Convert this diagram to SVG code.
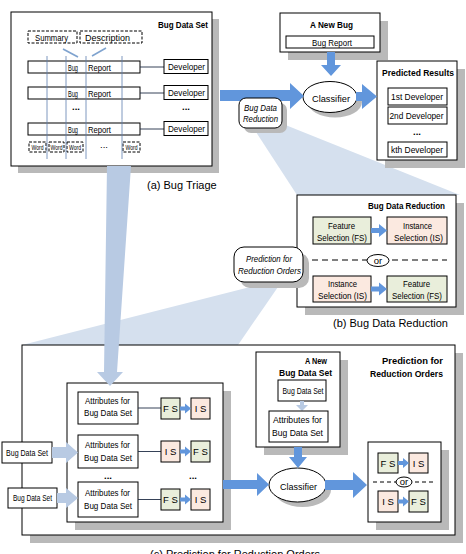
<svg xmlns="http://www.w3.org/2000/svg" width="466" height="554" viewBox="0 0 466 554">
<defs>
<style>
text{font-family:"Liberation Sans Narrow","Arial Narrow","Liberation Sans",Arial,sans-serif;fill:#000;font-size:9.5px}
.b{font-weight:bold}
.i{font-style:italic}
.c{text-anchor:middle}
.e{text-anchor:end}
.cap{font-family:"Liberation Sans",Arial,sans-serif;font-size:11px}
.bx{fill:#fff;stroke:#000;stroke-width:1}
.sh{fill:#b9b9b9}
.ds{fill:#fff;stroke:#000;stroke-width:1;stroke-dasharray:3 1.5}
.fs{fill:#e9eedb;stroke:#000;stroke-width:1}
.is{fill:#fbe9e0;stroke:#000;stroke-width:1}
.ar{fill:#6196dc}
.la{fill:#b8cae3}
.fan{fill:#d5e0ee}
.ln{stroke:#1f2d45;stroke-width:0.9;fill:none}
.vl{stroke:#5d7fae;stroke-width:0.8}
.dl{stroke:#000;stroke-width:1;stroke-dasharray:6 4;fill:none}
.w{font-size:6.5px}
</style>
</defs>
<rect x="0" y="0" width="466" height="554" fill="#fff"/>

<g id="beams">
<polygon class="fan" points="252,126 283,124 460,195 297,195"/>
<polygon class="fan" points="22,345 262,284 280,284 238,345"/>
</g>

<g id="bug-data-set">
<rect class="sh" x="18" y="19" width="201" height="154"/>
<rect class="bx" x="11" y="12" width="201" height="154"/>
<text class="b" x="158" y="28" font-size="10" textLength="50" lengthAdjust="spacingAndGlyphs">Bug Data Set</text>
<rect class="ds" x="28" y="31" width="49" height="12"/>
<text x="35" y="40.5" textLength="33" lengthAdjust="spacingAndGlyphs">Summary</text>
<rect class="ds" x="80" y="31" width="62" height="12"/>
<text x="85" y="40.5" textLength="45" lengthAdjust="spacingAndGlyphs">Description</text>
<line x1="63" y1="49" x2="78" y2="57" stroke="#7fa3cf" stroke-width="1.6"/>
<line x1="106" y1="48" x2="92" y2="56" stroke="#7fa3cf" stroke-width="1.6"/>
<rect class="bx" x="28" y="61" width="112" height="12"/>
<text x="68" y="70.5" textLength="10" lengthAdjust="spacingAndGlyphs">Bug</text>
<text x="88" y="70.5" textLength="23" lengthAdjust="spacingAndGlyphs">Report</text>
<rect class="bx" x="28" y="87" width="112" height="12"/>
<text x="68" y="96.5" textLength="10" lengthAdjust="spacingAndGlyphs">Bug</text>
<text x="88" y="96.5" textLength="23" lengthAdjust="spacingAndGlyphs">Report</text>
<rect class="bx" x="28" y="123" width="112" height="12"/>
<text x="68" y="132.5" textLength="10" lengthAdjust="spacingAndGlyphs">Bug</text>
<text x="88" y="132.5" textLength="23" lengthAdjust="spacingAndGlyphs">Report</text>
<text class="b c" x="76" y="110" font-size="11">...</text>
<text class="b c" x="186" y="110" font-size="11">...</text>
<line class="ln" x1="140" y1="67" x2="164" y2="67"/>
<line class="ln" x1="140" y1="93" x2="164" y2="93"/>
<line class="ln" x1="140" y1="129" x2="164" y2="129"/>
<rect class="bx" x="164" y="59.5" width="44" height="14"/>
<text x="168" y="70" textLength="37" lengthAdjust="spacingAndGlyphs">Developer</text>
<rect class="bx" x="164" y="85.5" width="44" height="14"/>
<text x="168" y="96" textLength="37" lengthAdjust="spacingAndGlyphs">Developer</text>
<rect class="bx" x="164" y="121.5" width="44" height="14"/>
<text x="168" y="132" textLength="37" lengthAdjust="spacingAndGlyphs">Developer</text>
<rect class="ds" x="29" y="142" width="17" height="10"/>
<text class="w" x="31.5" y="149.5" textLength="12" lengthAdjust="spacingAndGlyphs">Word</text>
<rect class="ds" x="49" y="142" width="15" height="10"/>
<text class="w" x="50.5" y="149.5" textLength="12" lengthAdjust="spacingAndGlyphs">Word</text>
<rect class="ds" x="67" y="142" width="16" height="10"/>
<text class="w" x="69" y="149.5" textLength="12" lengthAdjust="spacingAndGlyphs">Word</text>
<text class="c" x="104" y="148" font-size="8">...</text>
<rect class="ds" x="123" y="142" width="17" height="10"/>
<text class="w" x="125.5" y="149.5" textLength="12" lengthAdjust="spacingAndGlyphs">Word</text>
<line class="vl" x1="47" y1="56" x2="47" y2="159"/>
<line class="vl" x1="66" y1="56" x2="66" y2="159"/>
<line class="vl" x1="86" y1="56" x2="86" y2="159"/>
<line class="vl" x1="122" y1="56" x2="122" y2="159"/>
<text class="cap" x="147" y="189">(a) Bug Triage</text>
</g>

<g id="new-bug">
<rect class="sh" x="288" y="21" width="100" height="39"/>
<rect class="bx" x="280" y="13" width="100" height="39"/>
<text class="b" x="310" y="28" font-size="10" textLength="43" lengthAdjust="spacingAndGlyphs">A New Bug</text>
<rect class="bx" x="286" y="36" width="88" height="12"/>
<text x="312" y="45.5" textLength="40" lengthAdjust="spacingAndGlyphs">Bug Report</text>
</g>

<g id="classifier-top">
<ellipse cx="335" cy="102" rx="27" ry="15.5" fill="#b9b9b9"/>
<ellipse class="bx" cx="330" cy="97" rx="27" ry="15.5"/>
<text x="312" y="101.5" font-size="12.5" textLength="38" lengthAdjust="spacingAndGlyphs">Classifier</text>
</g>

<g id="predicted-results">
<rect class="sh" x="385" y="69" width="80" height="99"/>
<rect class="bx" x="377" y="61" width="80" height="99"/>
<text class="b" x="382" y="75.5" font-size="11" textLength="72" lengthAdjust="spacingAndGlyphs">Predicted Results</text>
<rect class="bx" x="388" y="88" width="59" height="17"/>
<text x="391" y="100" textLength="52" lengthAdjust="spacingAndGlyphs">1st Developer</text>
<rect class="bx" x="388" y="107" width="59" height="17"/>
<text x="389.5" y="119" textLength="54" lengthAdjust="spacingAndGlyphs">2nd Developer</text>
<text class="b c" x="417" y="135" font-size="11">...</text>
<rect class="bx" x="388" y="142" width="59" height="15"/>
<text x="391" y="153" textLength="52" lengthAdjust="spacingAndGlyphs">kth Developer</text>
</g>

<g id="bug-data-reduction-box">
<rect class="sh" x="305" y="203" width="159" height="112"/>
<rect class="bx" x="297" y="195" width="159" height="112"/>
<text class="b" x="368" y="209" font-size="10" textLength="77" lengthAdjust="spacingAndGlyphs">Bug Data Reduction</text>
<rect class="fs" x="313" y="217" width="58" height="27"/>
<text x="328" y="228.5" textLength="27" lengthAdjust="spacingAndGlyphs">Feature</text>
<text x="317" y="240.5" textLength="50" lengthAdjust="spacingAndGlyphs">Selection (FS)</text>
<rect class="is" x="387" y="217" width="60" height="27"/>
<text x="403" y="228.5" textLength="29" lengthAdjust="spacingAndGlyphs">Instance</text>
<text x="394" y="240.5" textLength="49" lengthAdjust="spacingAndGlyphs">Selection (IS)</text>
<line class="dl" x1="312" y1="260" x2="447" y2="260"/>
<ellipse class="bx" cx="378" cy="260.5" rx="11" ry="6"/>
<text class="c" x="378" y="264" font-size="9">or</text>
<rect class="is" x="313" y="276" width="58" height="26"/>
<text x="328" y="287" textLength="29" lengthAdjust="spacingAndGlyphs">Instance</text>
<text x="318" y="299" textLength="49" lengthAdjust="spacingAndGlyphs">Selection (IS)</text>
<rect class="fs" x="387" y="276" width="60" height="26"/>
<text x="403" y="287" textLength="27" lengthAdjust="spacingAndGlyphs">Feature</text>
<text x="392" y="299" textLength="50" lengthAdjust="spacingAndGlyphs">Selection (FS)</text>
<polygon class="ar" points="371,228 379,228 379,224 387,230.5 379,237 379,233 371,233"/>
<polygon class="ar" points="371,286.5 379,286.5 379,282.5 387,289 379,295.5 379,291.5 371,291.5"/>
<text class="cap" x="333" y="327">(b) Bug Data Reduction</text>
</g>

<g id="prediction-frame">
<rect class="sh" x="30" y="353" width="433" height="190"/>
<rect class="bx" x="22" y="345" width="433" height="190"/>
<text class="b e" x="443" y="363.5" font-size="11.5" textLength="61" lengthAdjust="spacingAndGlyphs">Prediction for</text>
<text class="b e" x="443" y="377" font-size="11.5" textLength="73" lengthAdjust="spacingAndGlyphs">Reduction Orders</text>
<text class="cap" x="150" y="558">(c) Prediction for Reduction Orders</text>
</g>

<g id="training-sets">
<rect class="sh" x="75" y="391" width="156" height="139"/>
<rect class="bx" x="67" y="383" width="156" height="139"/>
<rect class="bx" x="78" y="392" width="60" height="32"/>
<text x="85" y="404" textLength="45" lengthAdjust="spacingAndGlyphs">Attributes for</text>
<text x="84" y="416" textLength="48" lengthAdjust="spacingAndGlyphs">Bug Data Set</text>
<rect class="bx" x="78" y="435" width="60" height="33"/>
<text x="85" y="448" textLength="45" lengthAdjust="spacingAndGlyphs">Attributes for</text>
<text x="84" y="461" textLength="48" lengthAdjust="spacingAndGlyphs">Bug Data Set</text>
<text class="b c" x="108" y="479" font-size="11">...</text>
<text class="b c" x="193" y="479" font-size="11">...</text>
<rect class="bx" x="78" y="482" width="60" height="35"/>
<text x="85" y="496" textLength="45" lengthAdjust="spacingAndGlyphs">Attributes for</text>
<text x="84" y="509" textLength="48" lengthAdjust="spacingAndGlyphs">Bug Data Set</text>
<line class="ln" x1="138" y1="408" x2="161" y2="408"/>
<line class="ln" x1="138" y1="451.5" x2="161" y2="451.5"/>
<line class="ln" x1="138" y1="499.5" x2="161" y2="499.5"/>
<rect class="fs" x="161" y="398" width="19" height="21"/>
<text class="c" x="170.5" y="412" font-size="9">F S</text>
<rect class="is" x="191" y="398" width="19" height="21"/>
<text class="c" x="200.5" y="412" font-size="9">I S</text>
<rect class="is" x="161" y="441" width="19" height="21"/>
<text class="c" x="170.5" y="455" font-size="9">I S</text>
<rect class="fs" x="191" y="441" width="19" height="21"/>
<text class="c" x="200.5" y="455" font-size="9">F S</text>
<rect class="fs" x="161" y="489" width="19" height="21"/>
<text class="c" x="170.5" y="503" font-size="9">F S</text>
<rect class="is" x="191" y="489" width="19" height="21"/>
<text class="c" x="200.5" y="503" font-size="9">I S</text>
<polygon class="ar" points="180,406.5 185,406.5 185,403.5 191,408.5 185,413.5 185,410.5 180,410.5"/>
<polygon class="ar" points="180,449.5 185,449.5 185,446.5 191,451.5 185,456.5 185,453.5 180,453.5"/>
<polygon class="ar" points="180,497.5 185,497.5 185,494.5 191,499.5 185,504.5 185,501.5 180,501.5"/>
</g>

<g id="input-set-1">
<rect class="bx" x="2" y="442" width="50" height="21"/>
<text x="6" y="455.5" font-size="7.5" textLength="42" lengthAdjust="spacingAndGlyphs">Bug Data Set</text>
</g>
<g id="input-set-2">
<rect class="bx" x="8" y="488" width="49" height="20"/>
<text x="13" y="501" font-size="7.5" textLength="39" lengthAdjust="spacingAndGlyphs">Bug Data Set</text>
</g>

<g id="new-bug-data-set">
<rect class="sh" x="264" y="360" width="84" height="95"/>
<rect class="bx" x="256" y="352" width="84" height="95"/>
<text class="b" x="305" y="363.5" font-size="10" textLength="22" lengthAdjust="spacingAndGlyphs">A New</text>
<text class="b" x="279" y="375.5" font-size="10" textLength="53" lengthAdjust="spacingAndGlyphs">Bug Data Set</text>
<rect class="bx" x="278" y="380" width="48" height="21"/>
<text x="282.5" y="394" font-size="8" textLength="41" lengthAdjust="spacingAndGlyphs">Bug Data Set</text>
<polygon class="la" points="300,401 304,401 304,405 308,405 302,411 296,405 300,405"/>
<rect class="bx" x="269" y="411" width="59" height="31"/>
<text x="273" y="423" textLength="49" lengthAdjust="spacingAndGlyphs">Attributes for</text>
<text x="272" y="435.5" textLength="51" lengthAdjust="spacingAndGlyphs">Bug Data Set</text>
</g>

<g id="classifier-bottom">
<ellipse cx="302.5" cy="490" rx="28.5" ry="17" fill="#b9b9b9"/>
<ellipse class="bx" cx="297.5" cy="485" rx="28.5" ry="17"/>
<text x="280" y="489.5" font-size="12.5" textLength="37" lengthAdjust="spacingAndGlyphs">Classifier</text>
</g>

<g id="order-result">
<rect class="sh" x="376" y="450" width="73" height="80"/>
<rect class="bx" x="368" y="442" width="73" height="80"/>
<rect class="fs" x="378" y="453" width="20" height="20"/>
<text class="c" x="388" y="466.5" font-size="9">F S</text>
<rect class="is" x="409" y="453" width="19" height="20"/>
<text class="c" x="418.5" y="466.5" font-size="9">I S</text>
<polygon class="ar" points="398,461 403,461 403,458 409,463 403,468 403,465 398,465"/>
<line x1="373" y1="482" x2="436" y2="482" stroke="#000" stroke-width="1" stroke-dasharray="4 3"/>
<ellipse class="bx" cx="404" cy="482" rx="8" ry="5"/>
<text class="c" x="404" y="484.5" font-size="6.5">or</text>
<rect class="is" x="378" y="491" width="20" height="21"/>
<text class="c" x="388" y="505" font-size="9">I S</text>
<rect class="fs" x="409" y="491" width="19" height="21"/>
<text class="c" x="418.5" y="505" font-size="9">F S</text>
<polygon class="ar" points="398,499.5 403,499.5 403,496.5 409,501.5 403,506.5 403,503.5 398,503.5"/>
</g>

<g id="connectors">
<polygon class="ar" points="220,90 290,90 290,83 304,96 290,109 290,101 220,101"/>
<polygon class="ar" points="327,52 335,52 335,65 341,65 331,76 321,65 327,65"/>
<polygon class="ar" points="356,92 362,92 362,84 377,96.5 362,109 362,101 356,101"/>
<polygon class="la" points="107,166 131,166 117,372 123,372 110,386 97,372 104,372"/>
<polygon class="la" points="52,447 66,447 66,442 78,452.5 66,463 66,458 52,458"/>
<polygon class="la" points="57,493 66,493 66,488 78,498 66,508 66,503 57,503"/>
<polygon class="ar" points="223,480 257,480 257,473 269,484.5 257,496 257,489 223,489"/>
<polygon class="ar" points="294,447 302,447 302,457 307,457 298,468 289,457 294,457"/>
<polygon class="ar" points="325,480 353,480 353,472 367,485 353,498 353,490 325,490"/>
</g>

<g id="callout-bug-data-reduction">
<rect x="244" y="103" width="43" height="30" rx="7" fill="#b9b9b9"/>
<rect class="bx" x="239" y="98" width="43" height="30" rx="7"/>
<text class="i" x="244" y="110.5" font-size="9" textLength="33" lengthAdjust="spacingAndGlyphs">Bug Data</text>
<text class="i" x="243" y="122" font-size="9" textLength="35" lengthAdjust="spacingAndGlyphs">Reduction</text>
</g>

<g id="callout-prediction">
<rect x="240" y="253" width="69" height="35" rx="10" fill="#b9b9b9"/>
<rect class="bx" x="234" y="247" width="69" height="35" rx="10"/>
<text class="i" x="246" y="261.5" textLength="46" lengthAdjust="spacingAndGlyphs">Prediction for</text>
<text class="i" x="238" y="274" textLength="63" lengthAdjust="spacingAndGlyphs">Reduction Orders</text>
</g>
</svg>
